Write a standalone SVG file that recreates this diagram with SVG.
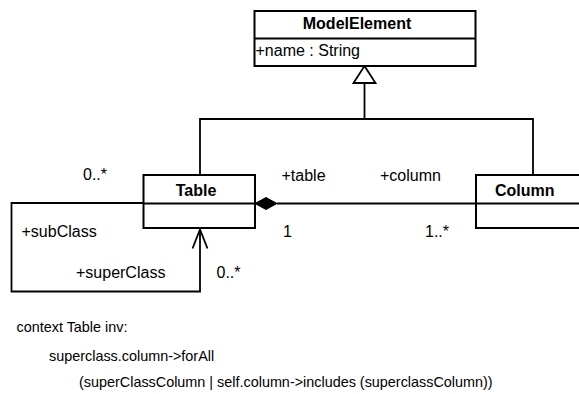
<svg xmlns="http://www.w3.org/2000/svg" width="579" height="394" viewBox="0 0 579 394">
  <defs>
    <style>
      .box { fill: #fff; stroke: #000; stroke-width: 2; }
      .sep { stroke: #000; stroke-width: 2; }
      .edge { fill: none; stroke: #000; stroke-width: 1.8; }
      .name { font-family: "Liberation Sans", Arial, sans-serif; font-size: 16px; font-weight: bold; text-anchor: middle; fill: #000; }
      .name.left { text-anchor: start; }
      .lbl { font-family: "Liberation Sans", Arial, sans-serif; font-size: 16px; fill: #000; }
      .ocl { font-family: "Liberation Sans", Arial, sans-serif; font-size: 14.4px; fill: #000; }
    </style>
  </defs>

  <!-- connectors -->
  <g id="connectors">
    <!-- generalization: Table and Column to ModelElement -->
    <polyline class="edge" points="200,175 200,119 533,119 533,175"/>
    <line class="edge" x1="364.5" y1="119" x2="364.5" y2="83"/>
    <polygon points="364.5,66 353.5,83 375.5,83" fill="#fff" stroke="#000" stroke-width="1.8"/>
    <!-- composition: Table to Column -->
    <line class="edge" x1="277" y1="203.5" x2="476" y2="203.5"/>
    <polygon points="255,203.5 266,197.5 277,203.5 266,209.5" fill="#000" stroke="#000" stroke-width="1"/>
    <!-- self association: subClass / superClass -->
    <polyline class="edge" points="143,203 11.5,203 11.5,291.5 200,291.5 200,229"/>
    <polyline class="edge" points="192.5,248.5 200,229.5 207.5,248.5"/>
  </g>

  <g id="ModelElement">
    <rect class="box" x="254.5" y="11" width="221" height="55"/>
    <line class="sep" x1="254.5" y1="38.5" x2="475.5" y2="38.5"/>
    <text class="name" x="357" y="29">ModelElement</text>
    <text class="lbl" x="255.5" y="56">+name : String</text>
  </g>

  <g id="Table">
    <rect class="box" x="143.5" y="175" width="111.5" height="53"/>
    <line class="sep" x1="143.5" y1="203.5" x2="255" y2="203.5"/>
    <text class="name" x="196" y="196">Table</text>
  </g>

  <g id="Column">
    <rect class="box" x="476" y="175" width="110" height="53"/>
    <line class="sep" x1="476" y1="203.5" x2="586" y2="203.5"/>
    <text class="name left" x="495" y="196">Column</text>
  </g>

  <g id="labels">
    <text class="lbl" x="83" y="180">0..*</text>
    <text class="lbl" x="281.5" y="181">+table</text>
    <text class="lbl" x="380" y="181">+column</text>
    <text class="lbl" x="283" y="237">1</text>
    <text class="lbl" x="425" y="237">1..*</text>
    <text class="lbl" x="21.5" y="237">+subClass</text>
    <text class="lbl" x="76" y="277.5">+superClass</text>
    <text class="lbl" x="216.5" y="277.5">0..*</text>
  </g>

  <g id="constraint">
    <text class="ocl" x="16.5" y="332">context Table inv:</text>
    <text class="ocl" x="49" y="361">superclass.column-&gt;forAll</text>
    <text class="ocl" x="79" y="387">(superClassColumn | self.column-&gt;includes (superclassColumn))</text>
  </g>
</svg>
